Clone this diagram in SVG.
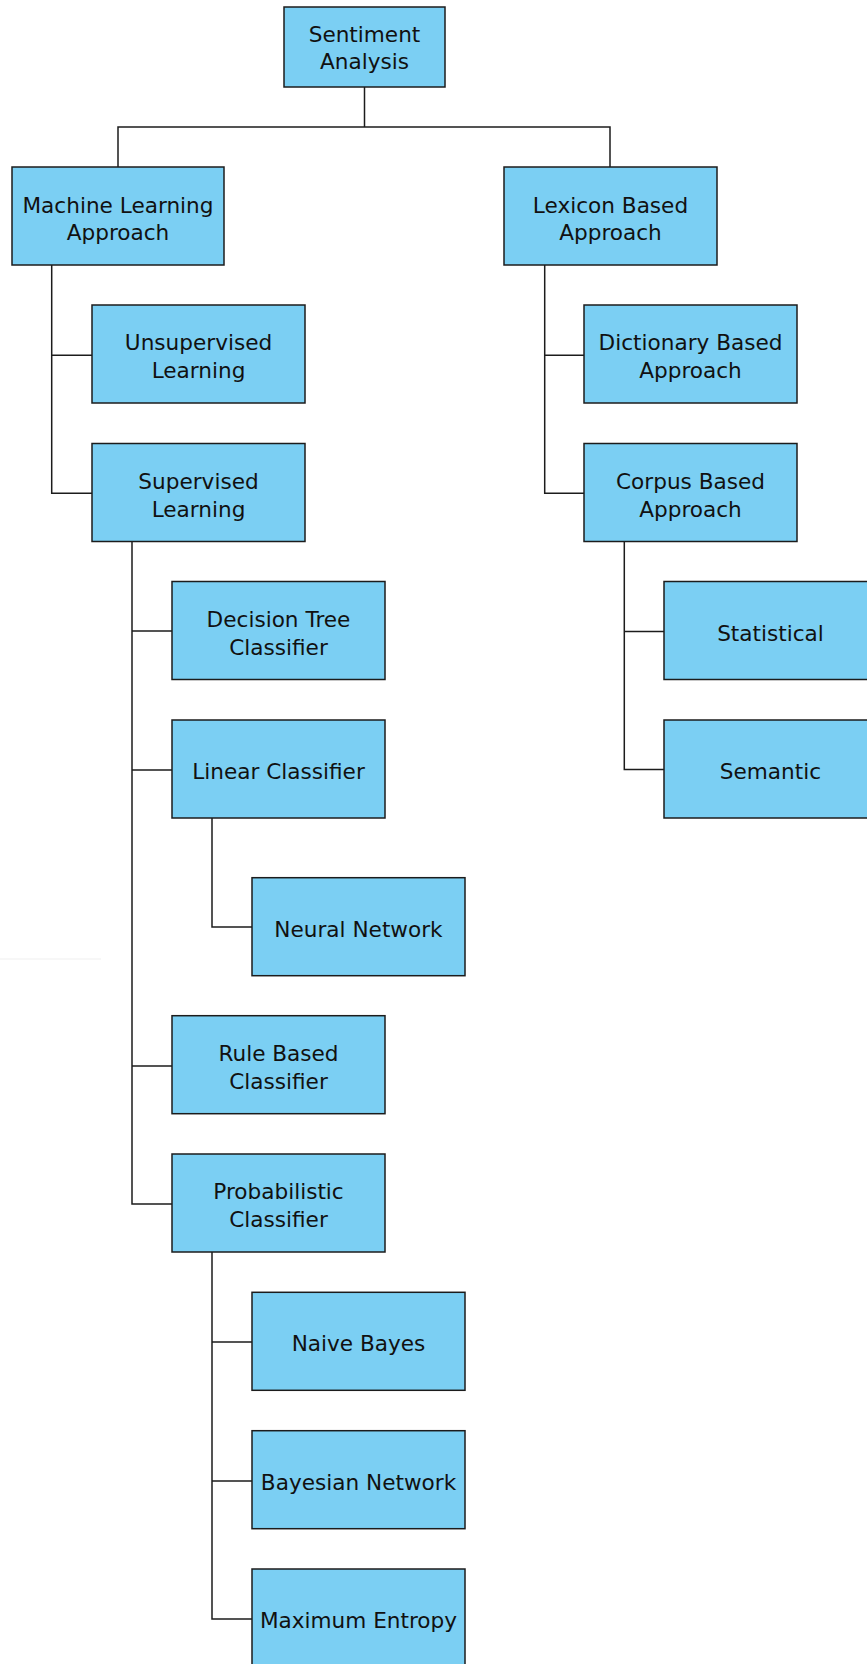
<svg xmlns="http://www.w3.org/2000/svg" width="867" height="1664" viewBox="0 0 867 1664">
<style>
.box{fill:#7bcff3;stroke:#1c1c1c;stroke-width:1.5}
.t{font-family:"DejaVu Sans",sans-serif;font-size:21.6px;fill:#111;text-anchor:middle}
.c{fill:none;stroke:#1c1c1c;stroke-width:1.5}
</style>
<rect width="867" height="1664" fill="#fff"/>
<line x1="0" y1="959" x2="101" y2="959" stroke="#efefef" stroke-width="1"/>
<g id="connectors">
<path class="c" d="M364.5,87 V127 M118,167 V127 H610 V167"/>
<path class="c" d="M51.7,265 V493.3 H92 M51.7,355.3 H92"/>
<path class="c" d="M544.7,265 V493.3 H584 M544.7,355.3 H584"/>
<path class="c" d="M132,541.5 V1204 H172 M132,631 H172 M132,770 H172 M132,1066 H172"/>
<path class="c" d="M624.3,541.5 V769.5 H664 M624.3,631.5 H664"/>
<path class="c" d="M212,818 V927 H252"/>
<path class="c" d="M212,1252 V1619 H252 M212,1342 H252 M212,1481 H252"/>
</g>
<g id="sentiment"><rect class="box" x="284" y="7" width="161" height="80"/><text class="t" x="364.5" y="41.7">Sentiment</text><text class="t" x="364.5" y="69.3">Analysis</text></g>
<g id="ml"><rect class="box" x="12" y="167" width="212" height="98"/><text class="t" x="118" y="212.5">Machine Learning</text><text class="t" x="118" y="240">Approach</text></g>
<g id="lexicon"><rect class="box" x="504" y="167" width="213" height="98"/><text class="t" x="610.5" y="212.5">Lexicon Based</text><text class="t" x="610.5" y="240">Approach</text></g>
<g id="unsupervised"><rect class="box" x="92" y="305" width="213" height="98"/><text class="t" x="198.5" y="350">Unsupervised</text><text class="t" x="198.5" y="378">Learning</text></g>
<g id="supervised"><rect class="box" x="92" y="443.5" width="213" height="98"/><text class="t" x="198.5" y="488.5">Supervised</text><text class="t" x="198.5" y="516.5">Learning</text></g>
<g id="dictionary"><rect class="box" x="584" y="305" width="213" height="98"/><text class="t" x="690.5" y="350">Dictionary Based</text><text class="t" x="690.5" y="378">Approach</text></g>
<g id="corpus"><rect class="box" x="584" y="443.5" width="213" height="98"/><text class="t" x="690.5" y="488.5">Corpus Based</text><text class="t" x="690.5" y="516.5">Approach</text></g>
<g id="decisiontree"><rect class="box" x="172" y="581.5" width="213" height="98"/><text class="t" x="278.5" y="626.5">Decision Tree</text><text class="t" x="278.5" y="654.5">Classifier</text></g>
<g id="linear"><rect class="box" x="172" y="720" width="213" height="98"/><text class="t" x="278.5" y="778.5">Linear Classifier</text></g>
<g id="statistical"><rect class="box" x="664" y="581.5" width="213" height="98"/><text class="t" x="770.5" y="640.5">Statistical</text></g>
<g id="semantic"><rect class="box" x="664" y="720" width="213" height="98"/><text class="t" x="770.5" y="778.5">Semantic</text></g>
<g id="neural"><rect class="box" x="252" y="877.7" width="213" height="98"/><text class="t" x="358.5" y="936.5">Neural Network</text></g>
<g id="rulebased"><rect class="box" x="172" y="1015.7" width="213" height="98"/><text class="t" x="278.5" y="1060.7">Rule Based</text><text class="t" x="278.5" y="1088.7">Classifier</text></g>
<g id="probabilistic"><rect class="box" x="172" y="1154" width="213" height="98"/><text class="t" x="278.5" y="1199">Probabilistic</text><text class="t" x="278.5" y="1227">Classifier</text></g>
<g id="naivebayes"><rect class="box" x="252" y="1292.3" width="213" height="98"/><text class="t" x="358.5" y="1351">Naive Bayes</text></g>
<g id="bayesian"><rect class="box" x="252" y="1430.7" width="213" height="98"/><text class="t" x="358.5" y="1489.5">Bayesian Network</text></g>
<g id="maxentropy"><rect class="box" x="252" y="1569" width="213" height="98"/><text class="t" x="358.5" y="1628">Maximum Entropy</text></g>
</svg>
